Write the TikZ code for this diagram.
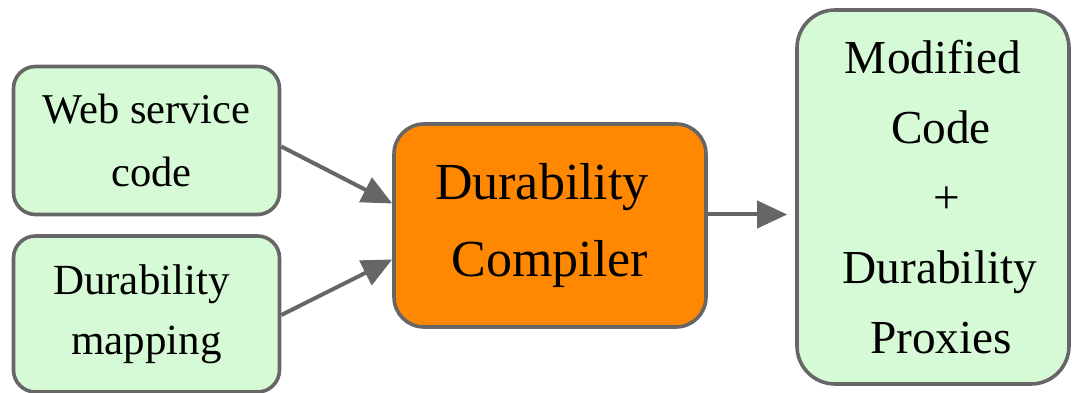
\documentclass[tikz,border=0pt]{standalone}
\usepackage{fontspec}
\setmainfont{Liberation Serif}
\usetikzlibrary{arrows.meta}
\definecolor{boxgreen}{HTML}{D5FAD5}
\definecolor{boxorange}{HTML}{FF8800}
\definecolor{edgegray}{HTML}{666666}
\tikzset{
  basebox/.style={draw=edgegray, line width=3.6pt, align=center, inner sep=0pt},
  greenbox/.style={basebox, fill=boxgreen, rounded corners=22pt},
  orangebox/.style={basebox, fill=boxorange, rounded corners=30pt},
  flow/.style={draw=edgegray, line width=4pt, -{Triangle[length=30pt,width=27pt]}}
}
\begin{document}
\begin{tikzpicture}[x=1pt,y=1pt]
\useasboundingbox (0,0) rectangle (1072,393);
\node[greenbox, minimum width=266pt, minimum height=148pt,
      font=\fontsize{42.5}{63}\selectfont] (web) at (146.5,252.5) {Web service\\\hspace*{10pt}code};
\node[greenbox, minimum width=266pt, minimum height=156pt,
      font=\fontsize{43}{60}\selectfont] (map) at (146.5,79) {Durability\hspace*{10pt}\\mapping};
\node[orangebox, minimum width=312pt, minimum height=203pt,
      font=\fontsize{52}{77}\selectfont] (comp) at (550,167.5) {Durability\hspace*{16pt}\\Compiler};
\node[greenbox, rounded corners=38pt, minimum width=272pt, minimum height=374pt,
      font=\fontsize{47.3}{70}\selectfont] (out) at (933,196)
      {Modified\\\hspace*{16pt}Code\\\hspace*{28pt}+\\\hspace*{14pt}Durability\\\hspace*{16pt}Proxies};
\draw[flow] ([yshift=-6pt]web.east) -- ([yshift=22pt]comp.west);
\draw[flow] ([yshift=-1pt]map.east) -- ([yshift=-34pt]comp.west);
\draw[flow, shorten >=8pt] ([yshift=11pt]comp.east) -- ([yshift=11pt]comp.east -| out.west);
\end{tikzpicture}
\end{document}
